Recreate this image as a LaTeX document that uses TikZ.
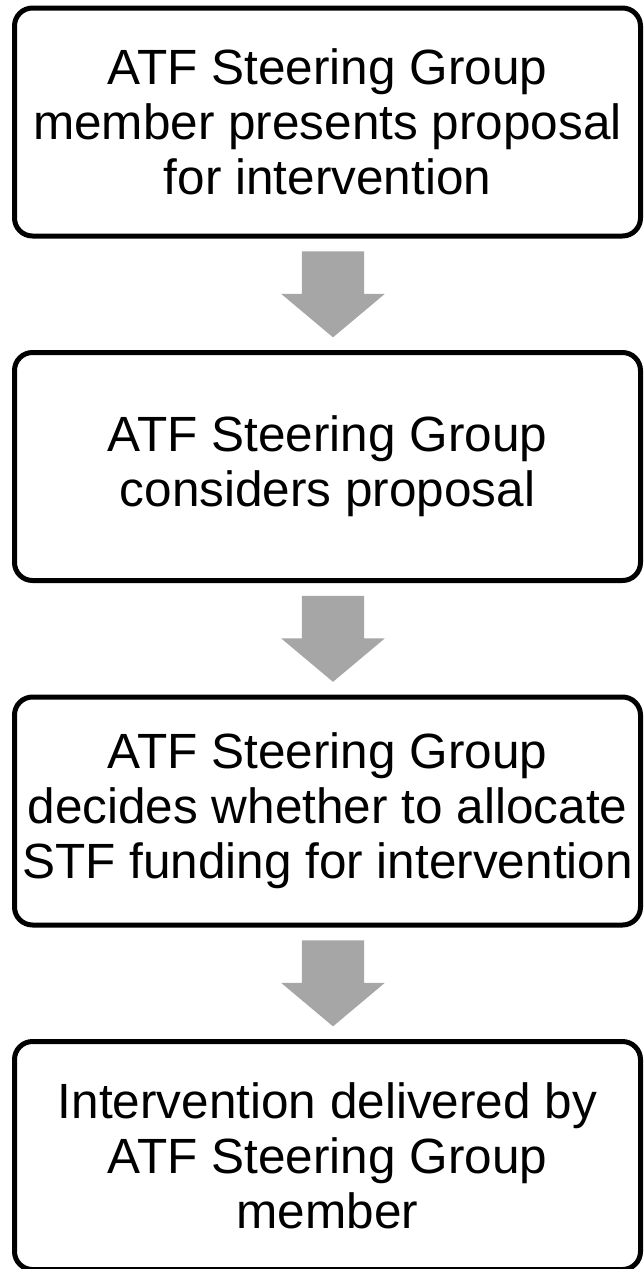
\documentclass[tikz,border=0pt]{standalone}
\usepackage{fontspec}
\setmainfont{Liberation Sans}
\usepackage{tikz}
\usetikzlibrary{positioning, shapes.arrows, calc}
\definecolor{arrowgray}{RGB}{166,166,166}
\tikzstyle{stepbox} = [rectangle, rounded corners=18pt, minimum width=626pt, minimum height=228pt, inner xsep=2pt, align=center, draw=black, line width=5pt, font=\fontsize{49.5}{55}\selectfont]
\tikzstyle{downarrow} = [single arrow, rotate=-90, fill=arrowgray, draw=none, inner xsep=0pt, inner ysep=31pt, minimum height=86pt, minimum width=103pt, single arrow head extend=20.5pt, single arrow tip angle=100]
\def\gap{344.5pt}

\begin{document}
\begin{tikzpicture}[node distance=\gap]
\useasboundingbox (0,0) rectangle (643pt,-1269pt);

\node (step1) [stepbox] at (327.5pt,-122pt) {ATF Steering Group\\member presents proposal\\for intervention};
\node (step2) [stepbox, below of=step1] {ATF Steering Group\\considers proposal};
\node (step3) [stepbox, below of=step2] {ATF Steering Group\\decides whether to allocate\\STF funding for intervention};
\node (step4) [stepbox, below of=step3] {Intervention delivered by\\ATF Steering Group\\member};

% block arrows between the steps
\node (arr1) [downarrow] at ($(step1)!0.5!(step2)+(5.5pt,13pt)$) {};
\node (arr2) [downarrow] at ($(step2)!0.5!(step3)+(5.5pt,13pt)$) {};
\node (arr3) [downarrow] at ($(step3)!0.5!(step4)+(5.5pt,13pt)$) {};

\end{tikzpicture}
\end{document}
